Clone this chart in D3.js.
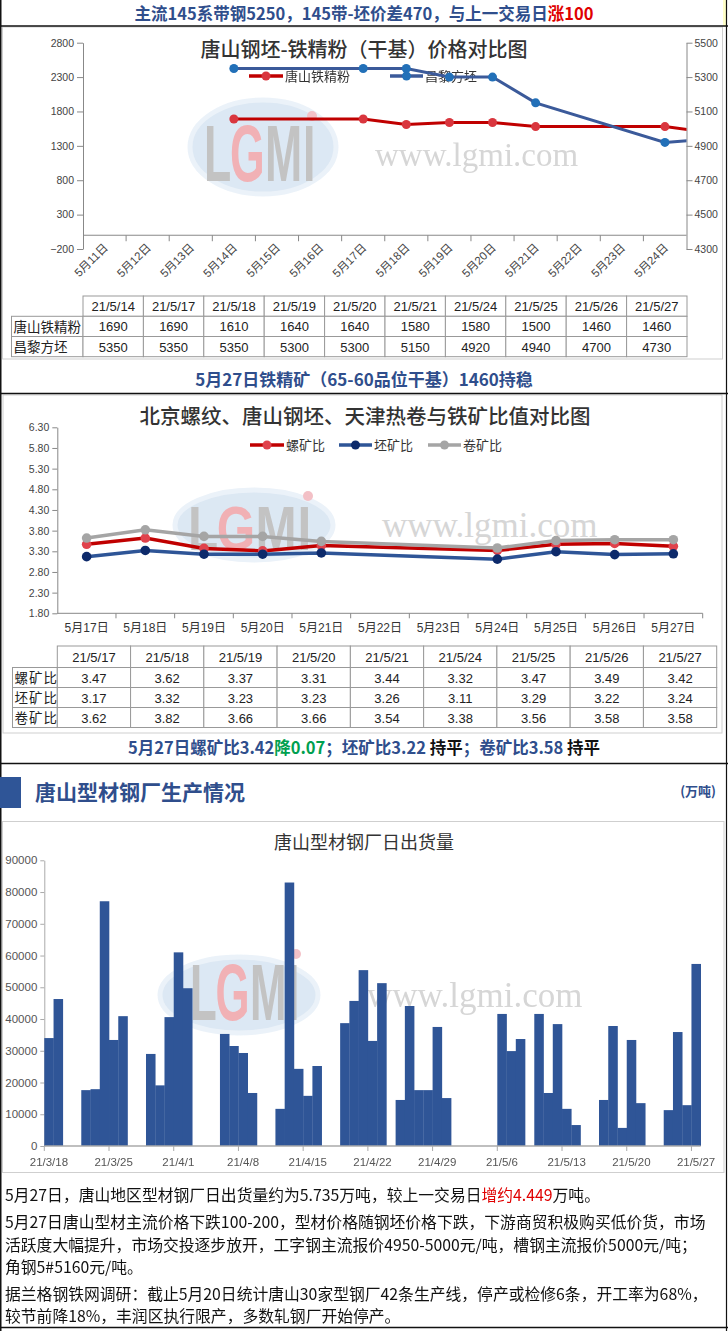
<!DOCTYPE html>
<html>
<head>
<meta charset="utf-8">
<script src="https://cdn.jsdelivr.net/npm/d3@7"></script>
<style>
  body { margin: 0; background: #fff; }
  svg { display: block; }
</style>
</head>
<body>
<div id="page"></div>
<script>
// ---- data ----
// chart 1: Tangshan iron ore fines vs Changli billet
const priceDates = ['21/5/14', '21/5/17', '21/5/18', '21/5/19', '21/5/20', '21/5/21', '21/5/24', '21/5/25', '21/5/26', '21/5/27'];
const oreFines = [1690, 1690, 1610, 1640, 1640, 1580, 1580, 1500, 1460, 1460];
const billet = [5350, 5350, 5350, 5300, 5300, 5150, 4920, 4940, 4700, 4730];
const leftTicks1 = [-200, 300, 800, 1300, 1800, 2300, 2800];
const rightTicks1 = [4300, 4500, 4700, 4900, 5100, 5300, 5500];

// chart 2: steel / ore ratios
const ratioDates = ['21/5/17', '21/5/18', '21/5/19', '21/5/20', '21/5/21', '21/5/24', '21/5/25', '21/5/26', '21/5/27'];
const rebarRatio = [3.47, 3.62, 3.37, 3.31, 3.44, 3.32, 3.47, 3.49, 3.42];
const billetRatio = [3.17, 3.32, 3.23, 3.23, 3.26, 3.11, 3.29, 3.22, 3.24];
const coilRatio = [3.62, 3.82, 3.66, 3.66, 3.54, 3.38, 3.56, 3.58, 3.58];
const ratioTicks = [1.8, 2.3, 2.8, 3.3, 3.8, 4.3, 4.8, 5.3, 5.8, 6.3];

// chart 3: daily shipments of section steel mills (t)
const shipDates = ['21/3/18', '21/3/19', '21/3/22', '21/3/23', '21/3/24', '21/3/25', '21/3/26',
  '21/3/29', '21/3/30', '21/3/31', '21/4/1', '21/4/2', '21/4/6', '21/4/7', '21/4/8', '21/4/9',
  '21/4/12', '21/4/13', '21/4/14', '21/4/15', '21/4/16', '21/4/19', '21/4/20', '21/4/21', '21/4/22', '21/4/23',
  '21/4/25', '21/4/26', '21/4/27', '21/4/28', '21/4/29', '21/4/30', '21/5/6', '21/5/7', '21/5/8',
  '21/5/10', '21/5/11', '21/5/12', '21/5/13', '21/5/14', '21/5/17', '21/5/18', '21/5/19', '21/5/20', '21/5/21',
  '21/5/24', '21/5/25', '21/5/26', '21/5/27'];
const shipments = [34000, 46300, 17600, 17900, 77100, 33400, 40900,
  29000, 19100, 40600, 61000, 49700, 35300, 31500, 29300, 16700,
  11700, 83000, 24300, 15800, 25200, 38700, 45700, 55400, 33100, 51300,
  14500, 44100, 17600, 17600, 37500, 15100, 41600, 29900, 33700,
  41600, 16700, 38400, 11700, 6600, 14500, 37800, 5700, 33400, 13500,
  11300, 35900, 12860, 57350];
const shipTicks = [0, 10000, 20000, 30000, 40000, 50000, 60000, 70000, 80000, 90000];

const parseDay = d3.timeParse('%y/%m/%d');
const dayKey = d => `${d.getMonth() + 1}/${d.getDate()}`;
const cnDay = d => `${d.getMonth() + 1}月${d.getDate()}日`;

const W = 728, H = 1331;
const CJK = '"Noto Sans CJK SC", sans-serif';
const SANS = '"Liberation Sans", "Noto Sans CJK SC", sans-serif';
const BLUE_TXT = '#2f4e8c';

const svg = d3.select('#page').append('svg')
  .attr('width', W)
  .attr('height', H)
  .style('font-family', CJK);
svg.append('rect').attr('width', W).attr('height', H).attr('fill', '#fff');

// ---- frames ----
const panels = [[2.5, 27, 720, 332], [3, 395, 719, 338], [2.5, 821.5, 721.5, 351]];
svg.append('g').selectAll('rect').data(panels).join('rect')
  .attr('x', d => d[0]).attr('y', d => d[1]).attr('width', d => d[2]).attr('height', d => d[3])
  .attr('fill', 'none').attr('stroke', '#cfcfcf');
svg.append('rect').attr('x', 723).attr('y', 0).attr('width', 3).attr('height', 26).attr('fill', '#ffffc8');
const rules = [26, 393.5, 763.5, 1327.5];
svg.append('g').selectAll('line').data(rules).join('line')
  .attr('x1', 0).attr('x2', W).attr('y1', d => d).attr('y2', d => d)
  .attr('stroke', '#111').attr('stroke-width', 1.5);
svg.append('line').attr('x1', 0.75).attr('x2', 0.75).attr('y1', 0).attr('y2', H).attr('stroke', '#111').attr('stroke-width', 1.5);
svg.append('line').attr('x1', 726.5).attr('x2', 726.5).attr('y1', 0).attr('y2', H).attr('stroke', '#111').attr('stroke-width', 1.2);

// ---- headline text rows ----
function richLine(x, y, size, weight, anchor, parts) {
  const t = svg.append('text')
    .attr('x', x).attr('y', y)
    .attr('text-anchor', anchor)
    .attr('font-size', size)
    .attr('font-weight', weight);
  t.selectAll('tspan').data(parts).join('tspan')
    .attr('fill', d => d[1])
    .text(d => d[0]);
  return t;
}
richLine(364, 19.5, 16.5, 'bold', 'middle', [
  ['主流145系带钢5250，145带-坯价差470，与上一交易日', BLUE_TXT], ['涨100', '#e00000']]);
richLine(364, 386, 17, 'bold', 'middle', [['5月27日铁精矿（65-60品位干基）1460持稳', BLUE_TXT]]);
richLine(364, 754, 16.5, 'bold', 'middle', [
  ['5月27日螺矿比3.42', BLUE_TXT], ['降0.07', '#00a050'], ['；坯矿比3.22 ', BLUE_TXT],
  ['持平', '#111'], ['；卷矿比3.58 ', BLUE_TXT], ['持平', '#111']]);

// section header
svg.append('rect').attr('x', 0).attr('y', 777).attr('width', 21).attr('height', 31).attr('fill', '#2f5597');
richLine(35, 800, 21, 'bold', 'start', [['唐山型材钢厂生产情况', BLUE_TXT]]);
richLine(716, 796, 13, 'bold', 'end', [['(万吨)', BLUE_TXT]]);

// ---- watermark (logo + site name) ----
function watermark(cx, cy, rx, ry, lx0, lx1, ly0, ly1, tx, ty, fs) {
  const g = svg.append('g').attr('opacity', 0.85);
  g.append('ellipse')
    .attr('cx', cx).attr('cy', cy).attr('rx', rx).attr('ry', ry)
    .attr('fill', '#d6e4f2').attr('stroke', '#e8f0f8').attr('stroke-width', 5);
  // letters placed one by one so their boxes never overlap
  const letters = [['L', '#b9b9b9', 0.52], ['G', '#efa3a8', 0.70], ['M', '#b9b9b9', 0.76], ['I', '#b9b9b9', 0.26]];
  const em = d3.sum(letters, d => d[2]) * 1.12;
  const lfs = (lx1 - lx0) / em;
  const sy = (ly1 - ly0) / (0.72 * lfs);
  const lg = g.append('g').attr('transform', `translate(${lx0},${ly1}) scale(1,${sy})`);
  let acc = 0;
  letters.forEach(l => {
    lg.append('text').attr('x', acc * lfs).attr('y', 0)
      .attr('font-family', '"Liberation Sans Narrow", "Liberation Sans", sans-serif')
      .attr('font-weight', 'bold').attr('font-size', lfs).attr('fill', l[1]).text(l[0]);
    acc += l[2] * 1.12;
  });
  g.append('circle').attr('cx', lx1 - 4).attr('cy', ly0 - 8).attr('r', 5).attr('fill', '#f1b6bd');
  g.append('text')
    .attr('x', tx).attr('y', ty)
    .attr('font-family', '"Liberation Serif", "DejaVu Serif", serif')
    .attr('font-size', fs)
    .attr('fill', '#cfcfcf')
    .text('www.lgmi.com');
}

function styleAxis(g, color, textColor, size, family) {
  g.select('.domain').attr('stroke', color);
  g.selectAll('.tick line').attr('stroke', color);
  g.selectAll('.tick text').attr('fill', textColor).attr('font-size', size).attr('font-family', family);
}

function legend(items, y) {
  const g = svg.append('g');
  items.forEach(it => {
    g.append('line').attr('x1', it.x).attr('x2', it.x + it.len).attr('y1', y).attr('y2', y)
      .attr('stroke', it.color).attr('stroke-width', 3.5);
    g.append('circle').attr('cx', it.x + it.len / 2).attr('cy', y).attr('r', 4.5).attr('fill', it.marker);
    g.append('text').attr('x', it.x + it.len + 2).attr('y', y + 5).attr('font-size', 13)
      .attr('fill', '#333').text(it.name);
  });
}

function table(cfg) {
  const g = svg.append('g').attr('font-size', 13);
  const colW = (cfg.right - cfg.x1) / cfg.headers.length;
  const cellX = i => cfg.x1 + i * colW;
  cfg.headers.forEach((h, i) => {
    g.append('rect').attr('x', cellX(i)).attr('y', cfg.top).attr('width', colW).attr('height', cfg.headH)
      .attr('fill', '#fff').attr('stroke', '#999');
    g.append('text').attr('x', cellX(i) + colW / 2).attr('y', cfg.top + cfg.headH / 2 + 5)
      .attr('text-anchor', 'middle').attr('font-family', SANS).attr('fill', '#222').text(h);
  });
  cfg.rows.forEach((r, j) => {
    const y = cfg.top + cfg.headH + j * cfg.rowH;
    g.append('rect').attr('x', cfg.x0).attr('y', y).attr('width', cfg.x1 - cfg.x0).attr('height', cfg.rowH)
      .attr('fill', '#fff').attr('stroke', '#999');
    g.append('text').attr('x', cfg.x0 + 2).attr('y', y + cfg.rowH / 2 + 5.5)
      .attr('font-size', cfg.labelSize).attr('letter-spacing', cfg.labelSpacing).attr('fill', '#222').text(r.label);
    r.values.forEach((v, i) => {
      g.append('rect').attr('x', cellX(i)).attr('y', y).attr('width', colW).attr('height', cfg.rowH)
        .attr('fill', '#fff').attr('stroke', '#999');
      g.append('text').attr('x', cellX(i) + colW / 2).attr('y', y + cfg.rowH / 2 + 5)
        .attr('text-anchor', 'middle').attr('font-family', SANS).attr('fill', '#222').text(cfg.fmt(v));
    });
  });
}

// =========== chart 1 ===========
(function () {
  const c = {left: 83, right: 686.5, top: 42.7, bottom: 249};
  const days = d3.timeDay.range(new Date(2021, 4, 11), new Date(2021, 4, 28));
  const visible = days.slice(0, 14);
  const step = (c.right - c.left) / visible.length;
  const x = d3.scaleBand().domain(days.map(dayKey)).range([c.left, c.left + step * days.length]);
  const yL = d3.scaleLinear().domain([-200, 2800]).range([c.bottom, c.top]);
  const yR = d3.scaleLinear().domain([4300, 5500]).range([c.bottom, c.top]);

  watermark(263, 147, 73, 47, 204, 316, 124, 181, 375, 166, 33);

  svg.append('text').attr('x', 364).attr('y', 57).attr('text-anchor', 'middle')
    .attr('font-size', 20).attr('font-weight', 500).attr('fill', '#333')
    .text('唐山钢坯-铁精粉（干基）价格对比图');

  const gl = svg.append('g').attr('transform', `translate(${c.left},0)`)
    .call(d3.axisLeft(yL).tickValues(leftTicks1).tickFormat(d3.format('d')).tickSize(6).tickSizeOuter(0).tickPadding(3));
  styleAxis(gl, '#888', '#444', 10.5, SANS);
  const gr = svg.append('g').attr('transform', `translate(${c.right},0)`)
    .call(d3.axisRight(yR).tickValues(rightTicks1).tickFormat(d3.format('d')).tickSize(6).tickSizeOuter(0).tickPadding(2));
  styleAxis(gr, '#888', '#444', 10.5, SANS);

  // category axis crossing at 0
  const gx = svg.append('g');
  gx.append('line').attr('x1', c.left).attr('x2', c.right).attr('y1', yL(0)).attr('y2', yL(0)).attr('stroke', '#888');
  gx.selectAll('.tk').data(visible.slice(1)).join('line').attr('class', 'tk')
    .attr('x1', d => x(dayKey(d))).attr('x2', d => x(dayKey(d)))
    .attr('y1', yL(0)).attr('y2', yL(0) + 6).attr('stroke', '#888');
  gx.selectAll('text').data(visible).join('text')
    .attr('transform', d => `translate(${x(dayKey(d)) + step / 2 + 4},${yL(0) + 13}) rotate(-45)`)
    .attr('text-anchor', 'end').attr('font-size', 11.5).attr('font-family', SANS).attr('fill', '#444')
    .text(cnDay);

  legend([
    {x: 249, len: 34, color: '#c00000', marker: '#d9363e', name: '唐山铁精粉'},
    {x: 390, len: 33, color: '#3b5a9a', marker: '#2270b8', name: '昌黎方坯'}
  ], 76);

  svg.append('clipPath').attr('id', 'clip1').append('rect')
    .attr('x', c.left).attr('y', 0).attr('width', c.right - c.left).attr('height', c.bottom);
  const plot = svg.append('g').attr('clip-path', 'url(#clip1)');
  const series = [
    {vals: oreFines, y: yL, color: '#c00000', marker: '#d9363e'},
    {vals: billet, y: yR, color: '#3b5a9a', marker: '#2270b8'}
  ];
  series.forEach(s => {
    const pts = priceDates.map((d, i) => ({k: dayKey(parseDay(d)), v: s.vals[i]}));
    const cx = d => x(d.k) + step / 2;
    plot.append('path').datum(pts)
      .attr('fill', 'none').attr('stroke', s.color).attr('stroke-width', 3)
      .attr('d', d3.line().x(cx).y(d => s.y(d.v)));
    plot.selectAll(null).data(pts).join('circle')
      .attr('cx', cx).attr('cy', d => s.y(d.v)).attr('r', 4.5).attr('fill', s.marker);
  });

  table({
    x0: 11.5, x1: 83, right: 687, top: 296, headH: 20.3, rowH: 20.2,
    headers: priceDates,
    rows: [{label: '唐山铁精粉', values: oreFines}, {label: '昌黎方坯', values: billet}],
    fmt: d => d, labelSize: 13.5, labelSpacing: 0
  });
})();

// =========== chart 2 ===========
(function () {
  const c = {left: 57.3, right: 702.7, top: 427.3, bottom: 613.3};
  const days = d3.timeDay.range(new Date(2021, 4, 17), new Date(2021, 4, 28));
  const x = d3.scaleBand().domain(days.map(dayKey)).range([c.left, c.right]);
  const y = d3.scaleLinear().domain([1.8, 6.3]).range([c.bottom, c.top]);

  watermark(254, 525, 79, 35, 188, 312, 504, 550, 382, 537, 35);

  svg.append('text').attr('x', 365).attr('y', 424).attr('text-anchor', 'middle')
    .attr('font-size', 20.5).attr('font-weight', 500).attr('fill', '#333')
    .text('北京螺纹、唐山钢坯、天津热卷与铁矿比值对比图');

  const gl = svg.append('g').attr('transform', `translate(${c.left},0)`)
    .call(d3.axisLeft(y).tickValues(ratioTicks).tickFormat(d3.format('.2f')).tickSize(5).tickSizeOuter(0).tickPadding(3));
  styleAxis(gl, '#888', '#444', 10.5, SANS);

  const gx = svg.append('g');
  gx.append('line').attr('x1', c.left).attr('x2', c.right).attr('y1', c.bottom).attr('y2', c.bottom).attr('stroke', '#888');
  gx.selectAll('.tk').data(days.slice(1).map(dayKey)).join('line').attr('class', 'tk')
    .attr('x1', d => x(d)).attr('x2', d => x(d)).attr('y1', c.bottom).attr('y2', c.bottom + 5).attr('stroke', '#888');
  gx.append('line').attr('x1', c.right).attr('x2', c.right).attr('y1', c.bottom).attr('y2', c.bottom + 5).attr('stroke', '#888');
  gx.selectAll('text').data(days).join('text')
    .attr('x', d => x(dayKey(d)) + x.bandwidth() / 2).attr('y', c.bottom + 19)
    .attr('text-anchor', 'middle').attr('font-size', 12).attr('font-family', SANS).attr('fill', '#333')
    .text(cnDay);

  legend([
    {x: 250, len: 34, color: '#c00000', marker: '#e0424c', name: '螺矿比'},
    {x: 339, len: 33, color: '#2e5597', marker: '#0d2a6b', name: '坯矿比'},
    {x: 428, len: 33, color: '#a5a5a5', marker: '#a5a5a5', name: '卷矿比'}
  ], 445);

  const series = [
    {vals: rebarRatio, color: '#c00000', marker: '#e0424c'},
    {vals: billetRatio, color: '#2e5597', marker: '#0d2a6b'},
    {vals: coilRatio, color: '#a5a5a5', marker: '#a5a5a5'}
  ];
  series.forEach(s => {
    const pts = ratioDates.map((d, i) => ({k: dayKey(parseDay(d)), v: s.vals[i]}));
    const cx = d => x(d.k) + x.bandwidth() / 2;
    svg.append('path').datum(pts)
      .attr('fill', 'none').attr('stroke', s.color).attr('stroke-width', 3.5)
      .attr('d', d3.line().x(cx).y(d => y(d.v)));
    svg.append('g').selectAll('circle').data(pts).join('circle')
      .attr('cx', cx).attr('cy', d => y(d.v)).attr('r', 4.8).attr('fill', s.marker);
  });

  table({
    x0: 12.5, x1: 57.3, right: 716.7, top: 646, headH: 21.5, rowH: 20,
    headers: ratioDates,
    rows: [{label: '螺矿比', values: rebarRatio}, {label: '坯矿比', values: billetRatio}, {label: '卷矿比', values: coilRatio}],
    fmt: d3.format('.2f'), labelSize: 13.5, labelSpacing: 1
  });
})();

// =========== chart 3 ===========
(function () {
  const c = {left: 44.3, right: 700.7, top: 860.3, bottom: 1146};
  const start = parseDay(shipDates[0]);
  const end = d3.timeDay.offset(parseDay(shipDates[shipDates.length - 1]), 1);
  const x = d3.scaleTime().domain([start, end]).range([c.left, c.right]);
  const y = d3.scaleLinear().domain([0, 90000]).range([c.bottom, c.top]);

  svg.append('text').attr('x', 364).attr('y', 849).attr('text-anchor', 'middle')
    .attr('font-size', 18).attr('fill', '#333').text('唐山型材钢厂日出货量');

  watermark(239, 995, 79, 38, 190, 300, 962, 1020, 367, 1007, 35);

  const gl = svg.append('g').attr('transform', `translate(${c.left},0)`)
    .call(d3.axisLeft(y).tickValues(shipTicks).tickFormat(d3.format('d')).tickSize(4).tickSizeOuter(0).tickPadding(3));
  styleAxis(gl, '#aaa', '#555', 11.5, SANS);

  const data = shipDates.map((d, i) => ({date: parseDay(d), v: shipments[i]}));
  svg.append('g').selectAll('rect').data(data).join('rect')
    .attr('x', d => x(d.date))
    .attr('width', d => x(d3.timeDay.offset(d.date, 1)) - x(d.date) + 0.3)
    .attr('y', d => y(d.v))
    .attr('height', d => y(0) - y(d.v))
    .attr('fill', '#2f5597');

  const weekTicks = d3.timeDay.range(start, end, 7);
  const dayW = x(d3.timeDay.offset(start, 1)) - x(start);
  const gx = svg.append('g');
  gx.append('line').attr('x1', c.left).attr('x2', c.right).attr('y1', c.bottom).attr('y2', c.bottom)
    .attr('stroke', '#aaa').attr('stroke-width', 1.5);
  gx.selectAll('.tk').data(weekTicks).join('line').attr('class', 'tk')
    .attr('x1', d => x(d)).attr('x2', d => x(d)).attr('y1', c.bottom).attr('y2', c.bottom + 5).attr('stroke', '#aaa');
  gx.selectAll('text').data(weekTicks).join('text')
    .attr('x', d => x(d) + dayW / 2).attr('y', c.bottom + 20)
    .attr('text-anchor', 'middle').attr('font-size', 11.5).attr('font-family', SANS).attr('fill', '#555')
    .text(d3.timeFormat('%y/%-m/%-d'));
})();

// =========== commentary ===========
const notes = [
  {y: 1201, parts: [['5月27日，唐山地区型材钢厂日出货量约为5.735万吨，较上一交易日', '#111'], ['增约4.449', '#e00000'], ['万吨。', '#111']]},
  {y: 1228, parts: [['5月27日唐山型材主流价格下跌100-200，型材价格随钢坯价格下跌，下游商贸积极购买低价货，市场', '#111']]},
  {y: 1250.5, parts: [['活跃度大幅提升，市场交投逐步放开，工字钢主流报价4950-5000元/吨，槽钢主流报价5000元/吨；', '#111']]},
  {y: 1273, parts: [['角钢5#5160元/吨。', '#111']]},
  {y: 1300, parts: [['据兰格钢铁网调研：截止5月20日统计唐山30家型钢厂42条生产线，停产或检修6条，开工率为68%，', '#111']]},
  {y: 1322, parts: [['较节前降18%，丰润区执行限产，多数轧钢厂开始停产。', '#111']]}
];
notes.forEach(n => richLine(5, n.y, 15.8, 'normal', 'start', n.parts));
</script>
</body>
</html>
